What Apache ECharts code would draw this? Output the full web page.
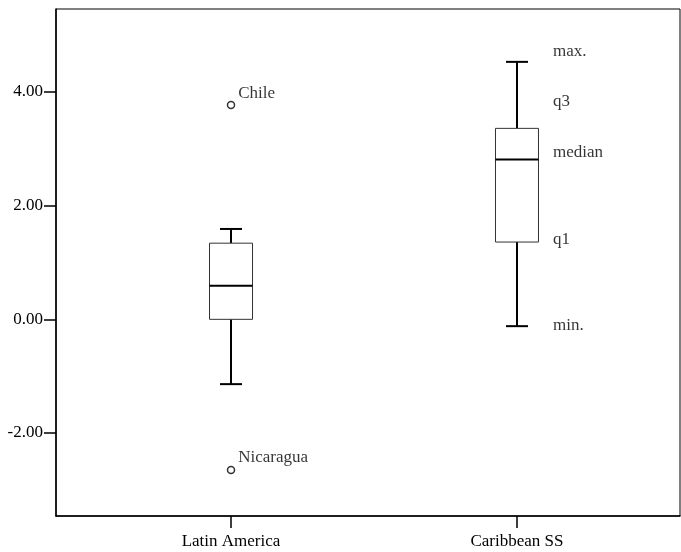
<!DOCTYPE html>
<html>
<head>
<meta charset="utf-8">
<script src="https://cdn.jsdelivr.net/npm/echarts@6/dist/echarts.min.js"></script>
<style>
  html, body { margin: 0; padding: 0; background: #fff; }
  #chart { width: 681px; height: 552px; }
</style>
</head>
<body>
<div id="chart"></div>
<script>
// groups along the x axis (0 = Latin America, 1 = Caribbean SS)
var groups = ['Latin America', 'Caribbean SS'];
// [min, q1, median, q3, max] per group
var boxStats = [
  [-1.14, 0.00, 0.59, 1.34, 1.59],
  [-0.12, 1.36, 2.81, 3.36, 4.53]
];
// outliers: [groupIndex, value, name]
var outliers = [
  [0, 3.77, 'Chile'],
  [0, -2.65, 'Nicaragua']
];
// labels beside the Caribbean box
var annoNames = ['max.', 'q3', 'median', 'q1', 'min.'];
var annoY = [4.71, 3.83, 2.93, 1.40, -0.11];
var annoX = 1.126;
var yTicks = [-2, 0, 2, 4];

var font = "'Liberation Serif', 'Times New Roman', serif";
var chart = echarts.init(document.getElementById('chart'));

var boxData = boxStats.map(function (s, i) { return [i].concat(s); });

chart.setOption({
  animation: false,
  grid: {
    left: 56, right: 1, top: 9, bottom: 36,
    show: true, borderColor: '#000', borderWidth: 1, backgroundColor: '#fff'
  },
  xAxis: {
    type: 'value',
    min: -0.612, max: 1.57,
    axisLine: { show: true, onZero: false, lineStyle: { color: '#000', width: 1.5 } },
    axisTick: { show: true, customValues: [0, 1], length: 12, lineStyle: { color: '#000', width: 1.5 } },
    axisLabel: {
      customValues: [0, 1], margin: 17,
      fontFamily: font, fontSize: 17, color: '#000',
      formatter: function (v) { return groups[Math.round(v)] || ''; }
    },
    splitLine: { show: false }
  },
  yAxis: {
    type: 'value',
    min: -3.46, max: 5.46,
    axisLine: { show: true, onZero: false, lineStyle: { color: '#000', width: 1.5 } },
    axisTick: { show: true, customValues: yTicks, length: 12, lineStyle: { color: '#000', width: 1.5 } },
    axisLabel: {
      customValues: yTicks, margin: 13,
      fontFamily: font, fontSize: 17, color: '#000',
      formatter: function (v) { return v.toFixed(2); }
    },
    splitLine: { show: false }
  },
  series: [
    {
      type: 'custom',
      data: boxData,
      renderItem: function (params, api) {
        var x = api.value(0);
        var pMin = api.coord([x, api.value(1)]);
        var pQ1 = api.coord([x, api.value(2)]);
        var pMed = api.coord([x, api.value(3)]);
        var pQ3 = api.coord([x, api.value(4)]);
        var pMax = api.coord([x, api.value(5)]);
        var cx = pMed[0], hw = 21.5, cw = 11;
        var thick = { stroke: '#000', lineWidth: 2, fill: null };
        return {
          type: 'group',
          children: [
            { type: 'line', shape: { x1: cx, y1: pMax[1], x2: cx, y2: pQ3[1] }, style: thick },
            { type: 'line', shape: { x1: cx, y1: pQ1[1], x2: cx, y2: pMin[1] }, style: thick },
            { type: 'line', shape: { x1: cx - cw, y1: pMax[1], x2: cx + cw, y2: pMax[1] }, style: thick },
            { type: 'line', shape: { x1: cx - cw, y1: pMin[1], x2: cx + cw, y2: pMin[1] }, style: thick },
            { type: 'rect', shape: { x: cx - hw, y: pQ3[1], width: hw * 2, height: pQ1[1] - pQ3[1] },
              style: { stroke: '#333', lineWidth: 1, fill: '#fff' } },
            { type: 'line', shape: { x1: cx - hw, y1: pMed[1], x2: cx + hw, y2: pMed[1] }, style: thick }
          ]
        };
      }
    },
    {
      type: 'scatter',
      data: outliers.map(function (o) { return { value: [o[0], o[1]], name: o[2] }; }),
      symbol: 'circle',
      symbolSize: 7,
      itemStyle: { color: '#fff', borderColor: '#000', borderWidth: 1.5 },
      label: {
        show: true, position: 'right', offset: [-2, -12],
        formatter: '{b}', fontFamily: font, fontSize: 17, color: '#000'
      },
      z: 5
    },
    {
      type: 'scatter',
      data: annoY.map(function (y, i) { return { value: [annoX, y], name: annoNames[i] }; }),
      symbolSize: 0,
      label: {
        show: true, position: 'right', distance: 0,
        formatter: '{b}', fontFamily: font, fontSize: 17, color: '#000'
      },
      silent: true
    }
  ]
});
</script>
</body>
</html>
